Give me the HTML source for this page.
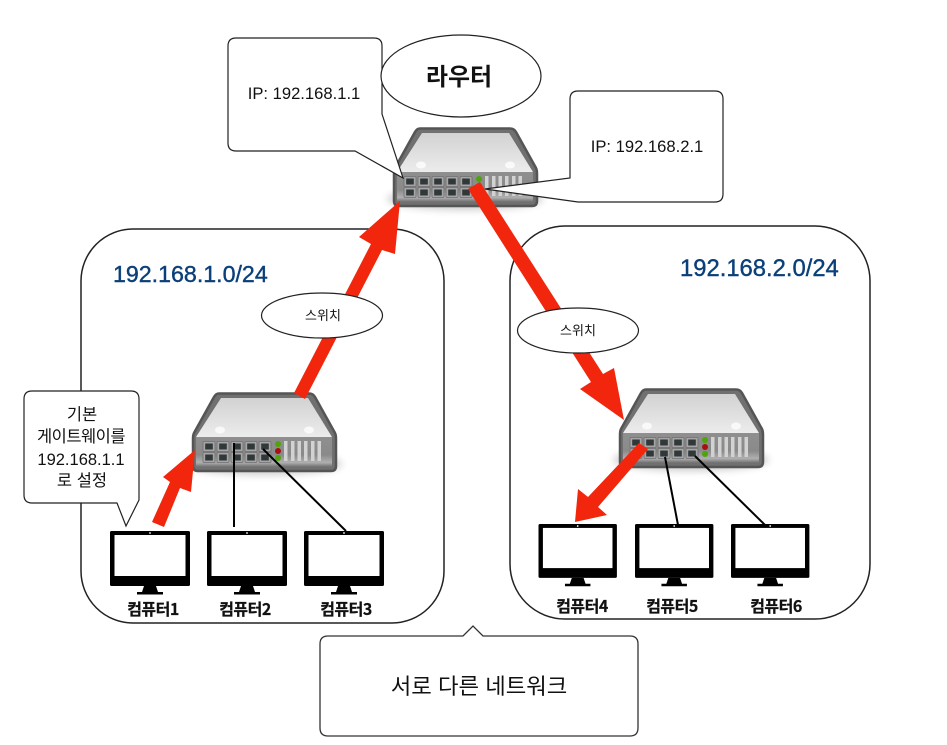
<!DOCTYPE html>
<html lang="ko"><head><meta charset="utf-8"><style>
html,body{margin:0;padding:0;background:#fff}
svg{display:block}
text{font-family:"Liberation Sans","Noto Sans CJK KR",sans-serif;fill:#111}
.k{font-family:"Noto Sans CJK KR","Liberation Sans",sans-serif}
.pc{font-family:"Noto Sans CJK KR","Liberation Sans",sans-serif;font-weight:700;font-size:16px;fill:#111;text-anchor:middle;letter-spacing:-.5px;stroke:#111;stroke-width:.25px}
.net{font-family:"Liberation Sans",sans-serif;fill:#0b4079;stroke:#0b4079;stroke-width:.4px}
.m{text-anchor:middle}
</style></head><body>
<svg width="947" height="745" viewBox="0 0 947 745" xmlns="http://www.w3.org/2000/svg">
<defs>
<linearGradient id="top" x1="0" y1="0" x2="0" y2="1"><stop offset="0" stop-color="#d2d2d2"/><stop offset="1" stop-color="#ececec"/></linearGradient>
<linearGradient id="front" x1="0" y1="0" x2="0" y2="1"><stop offset="0" stop-color="#8f8f8f"/><stop offset=".6" stop-color="#8a8a8a"/><stop offset=".85" stop-color="#b0b0b0"/><stop offset="1" stop-color="#6e6e6e"/></linearGradient>
<filter id="bl" x="-20%" y="-50%" width="140%" height="200%"><feGaussianBlur stdDeviation="4"/></filter>
<g id="port"><rect width="12" height="10" fill="#a5a5a5" stroke="#6f6f6f" stroke-width=".8" rx="1"/><rect x="2.200" y="2" width="7.600" height="6" fill="#30383a"/></g>
<g id="sw">
<ellipse cx="72" cy="72" rx="78" ry="11" fill="#000" opacity=".2" filter="url(#bl)"/>
<path d="M27,1.500 H117 Q121,1.500 123,5 L143,41 Q144,43 144,47 V74 Q144,79 139,79 H6 Q1,79 1,74 V47 Q1,43 2,41 L22,5 Q24,1.500 27,1.500Z" fill="#707070" stroke="#555" stroke-width="2.500"/>
<path d="M29,6 H116 L140,45 H4Z" fill="url(#top)"/>
<path d="M4,45 H140 V75 H4Z" fill="url(#front)"/>
<ellipse cx="28" cy="38" rx="5" ry="3.500" fill="#fff" opacity=".75"/>
<ellipse cx="117" cy="38" rx="5" ry="3.500" fill="#fff" opacity=".75"/>
<use href="#port" x="11" y="49.500"/><use href="#port" x="25" y="49.500"/><use href="#port" x="39" y="49.500"/><use href="#port" x="53" y="49.500"/><use href="#port" x="67" y="49.500"/>
<use href="#port" x="11" y="60.500"/><use href="#port" x="25" y="60.500"/><use href="#port" x="39" y="60.500"/><use href="#port" x="53" y="60.500"/><use href="#port" x="67" y="60.500"/>
<circle cx="86" cy="52" r="3" fill="#4ea40a"/><circle cx="86" cy="59" r="3" fill="#a80f0f"/><circle cx="86" cy="66" r="3" fill="#4ea40a"/>
<g fill="#d2d2d2"><rect x="92" y="49" width="3.500" height="20"/><rect x="99" y="49" width="3.500" height="20"/><rect x="105.500" y="49" width="3.500" height="20"/><rect x="112" y="49" width="3.500" height="20"/><rect x="119" y="49" width="3.500" height="20"/><rect x="125.500" y="49" width="3.500" height="20"/></g>
</g>
<g id="pc">
<path d="M1.500,0 H78.500 Q80,0 80,1.500 V53.500 Q80,55 78.500,55 H1.500 Q0,55 0,53.500 V1.500 Q0,0 1.500,0Z" fill="#000"/>
<rect x="4.500" y="4" width="71" height="41" fill="#fff"/>
<circle cx="40" cy="2" r=".9" fill="#fff"/>
<path d="M34,55 H46 L48,61 H53 V63.500 H27 V61 H32Z" fill="#000"/>
</g>
</defs>

<rect x="81" y="229" width="363" height="394" rx="52" fill="#fff" stroke="#222" stroke-width="1.500"/>
<rect x="510" y="226" width="360" height="393" rx="55" fill="#fff" stroke="#222" stroke-width="1.500"/>

<text class="net" font-size="23.200" x="113" y="282">192.168.1.0/24</text>
<text class="net" font-size="23.800" x="680" y="276">192.168.2.0/24</text>

<use href="#sw" x="393" y="127"/>
<use href="#sw" x="192" y="392"/>
<use href="#sw" x="619" y="388"/>

<path d="M236,38 H374 Q382,38 382,46 V114 L403,178 L355,151 H236 Q228,151 228,143 V46 Q228,38 236,38Z" fill="#fff" stroke="#222" stroke-width="1.200"/>
<text x="304" y="99" font-size="16.600" class="m">IP: 192.168.1.1</text>
<path d="M578,91 H715 Q723,91 723,99 V194 Q723,202 715,202 H578 L485,189 L570,178 V99 Q570,91 578,91Z" fill="#fff" stroke="#222" stroke-width="1.200"/>
<ellipse cx="461" cy="76" rx="80" ry="41" fill="#fff" stroke="#222" stroke-width="1.200"/>
<text x="459" y="85" font-size="24" font-weight="700" class="k m">라우터</text>
<text x="647" y="152" font-size="16.600" class="m">IP: 192.168.2.1</text>

<g stroke="#000" stroke-width="2" fill="none">
<line x1="234" y1="443" x2="234" y2="527"/>
<line x1="263" y1="449" x2="346" y2="531"/>
<line x1="665" y1="457" x2="678" y2="525"/>
<line x1="695" y1="456" x2="765" y2="525"/>
</g>

<use href="#pc" x="110" y="531"/><use href="#pc" x="207" y="531"/><use href="#pc" x="304" y="531"/>
<use href="#pc" transform="translate(538.500 524) scale(.98)"/><use href="#pc" transform="translate(635 524) scale(.98)"/><use href="#pc" transform="translate(731 524) scale(.98)"/>

<text class="pc" x="153" y="615">컴퓨터1</text>
<text class="pc" x="245" y="615">컴퓨터2</text>
<text class="pc" x="346" y="615">컴퓨터3</text>
<text class="pc" x="582" y="612">컴퓨터4</text>
<text class="pc" x="672" y="612">컴퓨터5</text>
<text class="pc" x="776" y="612">컴퓨터6</text>

<g fill="#f1260d">
<polygon points="294,393 305,399 382,250 395,254 400,201 359,237 371,244"/>
<polygon points="468,189 480,182 603,374 614,368 624,420 580,389 591,382"/>
<polygon points="152,522 164,527 180,488 191,492 195,450 163,477 170,482"/>
<polygon points="639,443 648,449 598,507 607,515 575,522 578,489 588,497"/>
</g>

<ellipse cx="322" cy="315.500" rx="60.500" ry="22.500" fill="#fff" stroke="#222" stroke-width="1.200"/>
<text x="323" y="320" font-size="13" class="k m">스위치</text>
<ellipse cx="578" cy="330.500" rx="60.500" ry="22.500" fill="#fff" stroke="#222" stroke-width="1.200"/>
<text x="578" y="335" font-size="13" class="k m">스위치</text>

<path d="M32,391 H131 Q139,391 139,399 V500 L126,526 L117,503 H32 Q24,503 24,495 V399 Q24,391 32,391Z" fill="#fff" stroke="#222" stroke-width="1.200"/>
<text x="82" y="420" font-size="16.500" class="k m">기본</text>
<text x="81" y="442" font-size="16.500" class="k m" letter-spacing="-.5">게이트웨이를</text>
<text x="81" y="465" font-size="16.500" class="m">192.168.1.1</text>
<text x="82" y="486" font-size="16.500" class="k m">로 설정</text>

<path d="M328,636 H463 L473,626 L483,636 H630 Q638,636 638,644 V728 Q638,736 630,736 H328 Q320,736 320,728 V644 Q320,636 328,636Z" fill="#fff" stroke="#333" stroke-width="1.300"/>
<text x="479" y="694" font-size="22.300" class="k m">서로 다른 네트워크</text>
</svg>
</body></html>
